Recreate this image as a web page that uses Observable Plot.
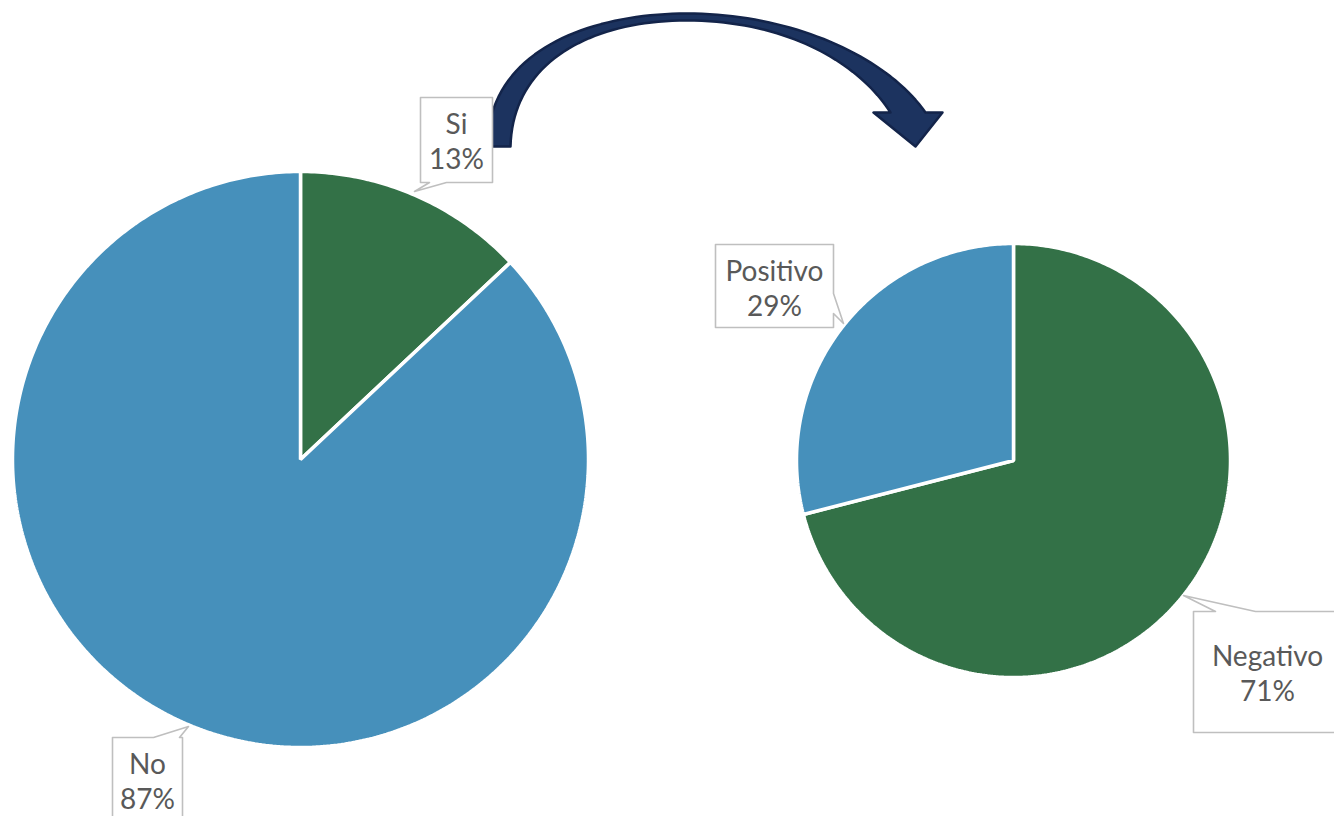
<!DOCTYPE html>
<html>
<head>
<meta charset="utf-8">
<script src="https://cdn.jsdelivr.net/npm/d3@7"></script>
<script src="https://cdn.jsdelivr.net/npm/@observablehq/plot@0.6"></script>
<style>
  html, body { margin: 0; padding: 0; background: #ffffff; }
  #chart { width: 1334px; height: 816px; overflow: hidden; }
</style>
</head>
<body>
<div id="chart"></div>
<script>
// ---- data ----
const mainCategories = ["Si", "No"];
const mainValues = [13, 87];
const subCategories = ["Negativo", "Positivo"];
const subValues = [71, 29];
const categoryColors = ["#337147", "#4690BB"]; // first slice green, second blue

// ---- layout ----
const W = 1334, H = 816;
const pies = [
  {cats: mainCategories, vals: mainValues, cx: 300, cy: 459, r: 288},
  {cats: subCategories, vals: subValues, cx: 1013, cy: 460, r: 217}
];
// callout boxes: [box polygon incl. pointer], text centre
const callouts = {
  "Si":       {tx: 456, ty: 140, poly: [[420,97],[492,97],[492,182],[446,182],[414,191],[429,182],[420,182]]},
  "No":       {tx: 147, ty: 780, poly: [[112,737],[153,737],[188,726],[179,737],[182,737],[182,822],[112,822]]},
  "Positivo": {tx: 774, ty: 287, poly: [[715,244],[833,244],[833,293],[843,323],[833,313],[833,327],[715,327]]},
  "Negativo": {tx: 1267, ty: 672, poly: [[1193,611],[1215,611],[1183,595],[1255,611],[1340,611],[1340,732],[1193,732]]}
};

// ---- build slices ----
const slicePts = [];
const labelRows = [];
pies.forEach((p, pi) => {
  const arcs = d3.pie().sort(null).startAngle(0).endAngle(2 * Math.PI)(p.vals);
  arcs.forEach((a, i) => {
    const key = pi + "-" + i;
    const color = categoryColors[i];
    slicePts.push({key, color, x: p.cx, y: p.cy});
    const n = Math.max(8, Math.ceil((a.endAngle - a.startAngle) * 80));
    for (let k = 0; k <= n; k++) {
      const t = a.startAngle + (a.endAngle - a.startAngle) * k / n;
      slicePts.push({key, color, x: p.cx + p.r * Math.sin(t), y: p.cy - p.r * Math.cos(t)});
    }
    const cat = p.cats[i];
    const c = callouts[cat];
    labelRows.push({cat, text: cat + "\n" + p.vals[i] + "%", x: c.tx, y: c.ty});
  });
});

const calloutPts = [];
Object.entries(callouts).forEach(([cat, c]) => {
  c.poly.forEach(([x, y]) => calloutPts.push({cat, x, y}));
});

// curved arrow (decoration), sampled from cubic Bezier segments
function bez(p0, p1, p2, p3, n) {
  const out = [];
  for (let k = 0; k <= n; k++) {
    const t = k / n, u = 1 - t;
    out.push([
      u*u*u*p0[0] + 3*u*u*t*p1[0] + 3*u*t*t*p2[0] + t*t*t*p3[0],
      u*u*u*p0[1] + 3*u*u*t*p1[1] + 3*u*t*t*p2[1] + t*t*t*p3[1]
    ]);
  }
  return out;
}
const arrowPoly = [
  ...bez([487,146],[487,50],[590,13],[686,13], 40),
  ...bez([686,13],[790,13],[885,55],[925,112], 40).slice(1),
  [942,112],[915,146],[873,112],[890,112],
  ...bez([890,112],[860,65],[790,20],[686,20], 40).slice(1),
  ...bez([686,20],[590,20],[512,62],[510,146], 40).slice(1)
].map(([x, y]) => ({x, y}));

const chart = Plot.plot({
  width: W,
  height: H,
  margin: 0,
  x: {domain: [0, W], range: [0, W], axis: null},
  y: {domain: [0, H], range: [0, H], axis: null},
  color: {type: "identity"},
  style: {fontFamily: "Lato, 'Open Sans', sans-serif", background: "#ffffff"},
  marks: [
    Plot.line(slicePts, {x: "x", y: "y", z: "key", fill: "color", stroke: "#ffffff", strokeWidth: 3.5, strokeLinejoin: "miter", curve: "linear-closed"}),
    Plot.line(arrowPoly, {x: "x", y: "y", fill: "#1C335F", stroke: "#13244A", strokeWidth: 2.5, strokeLinejoin: "round", curve: "linear-closed"}),
    Plot.line(calloutPts, {x: "x", y: "y", z: "cat", fill: "#ffffff", stroke: "#BFBFBF", strokeWidth: 1.6, curve: "linear-closed"}),
    Plot.text(labelRows, {x: "x", y: "y", text: "text", fill: "#595959", fontSize: 28, lineHeight: 1.25, textAnchor: "middle", lineAnchor: "middle"})
  ]
});
document.getElementById("chart").appendChild(chart);
</script>
</body>
</html>
